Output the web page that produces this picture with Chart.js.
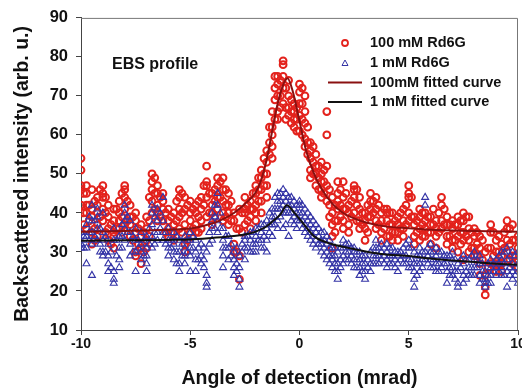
<!DOCTYPE html>
<html>
<head>
<meta charset="utf-8">
<script src="https://cdn.jsdelivr.net/npm/chart.js@4.4.0/dist/chart.umd.min.js"></script>
<style>
html,body{margin:0;padding:0;background:#fff;overflow:hidden;width:522px;height:392px}
#wrap{width:540px;height:392px;position:relative}
</style>
</head>
<body>
<div id="wrap"><canvas id="c"></canvas></div>
<script>
// x positions of the measured columns (mrad)
const xCols = [
  -10,-9.75,-9.5,-9.25, -9,-8.75,-8.5,-8.25, -8,-7.75,-7.5,-7.25, -7,-6.75,-6.5,-6.25,
  -6,-5.75,-5.5,-5.25, -5,-4.75,-4.5,-4.25, -4,-3.75,-3.5,-3.25, -3,-2.75,-2.5,-2.25,
  -2,-1.75,-1.5,-1.25, -1,-0.75,-0.5,-0.25, 0,0.25,0.5,0.75, 1,1.25,1.5,1.75,
  2,2.25,2.5,2.75, 3,3.25,3.5,3.75, 4,4.25,4.5,4.75, 5,5.25,5.5,5.75,
  6,6.25,6.5,6.75, 7,7.25,7.5,7.75, 8,8.25,8.5,8.75, 9,9.25,9.5,9.75, 10
];
// in-between columns
const xMid = [
  -9.875,-9.625,-9.375,-9.125, -8.875,-8.625,-8.375,-8.125, -7.875,-7.625,-7.375,-7.125, -6.875,-6.625,-6.375,-6.125,
  -5.875,-5.625,-5.375,-5.125, -4.875,-4.625,-4.375,-4.125, -3.875,-3.625,-3.375,-3.125, -2.875,-2.625,-2.375,-2.125,
  -1.875,-1.625,-1.375,-1.125, -0.875,-0.625,-0.375,-0.125, 0.125,0.375,0.625,0.875, 1.125,1.375,1.625,1.875,
  2.125,2.375,2.625,2.875, 3.125,3.375,3.625,3.875, 4.125,4.375,4.625,4.875, 5.125,5.375,5.625,5.875,
  6.125,6.375,6.625,6.875, 7.125,7.375,7.625,7.875, 8.125,8.375,8.625,8.875, 9.125,9.375,9.625,9.875
];

// 100 mM Rd6G, values read per column
const redCols = [
  [54,51,47,46,42],[47,45,42,40,36],[46,41,39,35,32],[44,42,40,37,34],
  [47,45,44,41,38],[42,39,36,33],[41,38,35,34,31],[43,40,38,36],
  [47,46,44,41,37],[42,39,37,34],[40,38,35,30,29],[37,34,31,27],
  [39,36,33,31],[50,48,46,43,40],[47,45,42,40,38],[45,43,41,38],
  [41,38,36,34],[40,37,35,33],[46,44,41,39,36],[44,41,37,32,30],
  [43,40,38,35],[42,40,37,35],[44,41,38,36],[52,48,47,44,39],
  [45,42,40,37],[49,47,44,41],[49,46,43,40,38],[45,42,40,37],
  [40,38,32,30],[41,36,29,23],[44,41,40,37],[43,41,39,36],
  [47,45,42,40,38],[51,49,46,43,40],[56,53,50,47,44],[66,62,60,57,54],
  [75,73,70,66,64],[79,78,75,72,68],[74,70,67,65],[68,66,64,62],
  [73,71,68,65,61],[70,66,63,59,57],[58,56,54,51,49],[55,52,50,47],
  [53,50,48,46,44],[66,60,52,47,43],[44,40,37,34,31],[48,45,43,41,38],
  [48,44,41,38,36],[42,40,37,35],[47,46,44,40],[44,41,38,36],
  [40,38,36,33],[45,43,41,39],[44,41,38,36],[40,38,35,33],
  [41,40,38,34],[40,37,35,33],[39,37,35,33],[41,38,36,34],
  [47,45,44,40,38],[39,37,34,32],[41,39,36,33],[40,38,36,34],
  [39,37,35,32],[38,36,34,31],[44,42,38,36],[39,37,34,32],
  [38,36,33,31],[39,37,34,30],[40,38,35,33,28],[39,36,33,30],
  [36,34,31,29],[34,31,27,24],[30,24,21,19],[37,35,31,27],
  [33,30,27,25],[32,29,27,25],[38,36,33,30],[37,33,29,27],
  [34,31,28,26]
];
const redMid = [
  [45,40,37],[42,38],[43,36,33],[46,39],
  [44,40,35],[37,32],[41,36],[45,39,35],
  [43,38],[39,33],[36,32],[35,30],
  [44,38,34],[49,45,41],[44,39],[40,35],
  [39,35],[43,38],[45,40,35],[42,33],
  [41,36],[43,39,35],[47,42],[45,40],
  [46,43,39],[48,44],[46,42,39],[43,38],
  [36,30],[40,35],[42,38],[45,41],
  [49,46,43],[54,50,47],[62,58,55],[75,72,69,64],
  [74,70,67],[72,67,64],[69,66,63],[67,64,61],
  [72,68,64,60],[62,58,55],[57,53,50],[52,49,46],
  [51,48,45],[46,42,39],[42,38,35],[46,42,39],
  [45,41],[43,39],[46,42,38],[40,37],
  [42,39,35],[43,40],[42,37],[41,36],
  [40,37,34],[38,35],[40,36],[42,37],
  [44,39],[38,35],[40,37,34],[39,35],
  [41,37],[40,35],[41,37],[37,34],
  [37,33],[38,35,32],[39,34],[35,31],
  [35,32,29],[33,28],[31,26],[35,29],
  [34,30,27],[35,31],[36,32,28],[33,29]
];

// 1 mM Rd6G, values read per column
const blueCols = [
  [35,33,32,31],[37,34,31,27],[42,38,35,32,24],[41,39,36,33],
  [40,35,33,30,29],[32,29,27,25],[36,33,25,23,22],[34,31,28,26],
  [42,40,38,36,33],[38,35,32,29],[36,33,30,25],[35,32,30,28],
  [34,31,29,27,25],[42,40,37,34,31],[41,38,35,33],[44,38,35,33],
  [36,33,31,29],[35,32,30,28],[33,30,27,25],[34,31,29,27],
  [35,33,31,29,25],[33,30,28,25],[32,29,27],[30,24,22,21],
  [40,38,36,33],[45,42,38,35],[36,33,31,29,26],[34,31,28],
  [30,28,26,24],[29,26,23,21],[34,33,31,28],[35,33,30],
  [36,34,32,30],[37,35,33,31],[38,36,33,30],[41,39,37,34],
  [45,43,41,38,36],[46,44,42,40,36],[44,42,40,34],[43,41,39,37],
  [43,42,40,38],[41,39,37,35],[39,37,35,33],[37,35,33,31],
  [35,33,32,30],[34,32,30,28],[31,29,28,26],[30,27,25,23],
  [33,31,29,27],[32,30,28],[31,30,28,26],[30,28,26,24],
  [29,27,25,23],[30,27,25],[33,31,29,27],[32,30,28],
  [32,30,28,26],[31,29,27],[30,29,27,25],[31,29,27],
  [33,31,28,26],[30,27,25,23,21],[31,29,27,25],[44,42,30,28],
  [32,30,28,26],[31,29,27,25],[30,28,26],[29,27,25,22],
  [30,28,26,24],[27,25,22,21],[29,27,24,22],[28,26,24],
  [30,28,26,24],[29,27,24,22],[25,23,22,21],[28,26,24,22],
  [28,26,24],[30,28,26,24],[31,28,25,21],[30,27,25,23],
  [30,27,25,22]
];
const blueMid = [
  [34,31],[39,35,33],[38,34],[36,32,30],
  [34,30],[30,26],[33,29],[37,34,31],
  [39,35],[34,30],[33,31],[33,29],
  [36,32],[39,35,32],[40,36],[35,32],
  [33,31],[34,30,27],[32,29],[33,30],
  [34,31],[31,28],[31,28,26],[35,32],
  [42,39,36],[40,36],[34,31],[32,29],
  [31,27,25],[32,30],[34,31],[35,32,30],
  [36,33],[37,34,31],[40,37,35],[44,41,39,37],
  [45,43,41,39],[45,43,40,37],[44,42,40,38],[42,40,38,36],
  [42,40,38,36],[40,38,36,34],[38,36,34,32],[36,34,32],
  [35,33,31,29],[33,31,29,27],[31,29,27,25],[31,28,26],
  [32,30,28],[31,29,27],[30,28,26],[29,27,25],
  [28,26],[31,29,27],[31,29,27],[31,29,27],
  [31,29,27],[30,28,26],[30,28],[32,29,27],
  [31,28,26],[29,27,24],[30,28,26],[31,29,27],
  [30,28,26],[30,27,25],[29,27],[29,26,24],
  [28,25,23],[28,26],[28,25,23],[29,26,24],
  [28,26],[27,25,23],[27,24,22],[27,25],
  [29,27,25],[30,27,24],[29,26,24],[29,26,24]
];

// fitted curves
const fitRedX = [-10,-8,-6,-5,-4,-3.5,-3,-2.5,-2,-1.75,-1.5,-1.25,-1,-0.75,-0.55,-0.3,0,0.3,0.67,1,1.5,2,2.5,3,4,5,6,8,10];
const fitRedY = [35.2,35.4,35.7,36.0,37.3,38.4,40.0,42.3,45.3,48.5,53.7,61,68,72.8,74.5,71,63.5,56,50,46.3,42.4,40,38.6,37.6,36.5,36.1,35.7,35.4,35.2];
const fitBlackX = [-10,-8,-6,-5,-4,-3,-2.4,-2,-1.5,-1.2,-0.86,-0.58,-0.24,0.1,0.67,1.44,2.2,2.97,3.73,5.1,6,7,8,9,10];
const fitBlackY = [32.9,33.0,33.1,33.2,33.6,34.1,34.6,35.2,36.6,38.0,39.7,42.0,40.1,37.8,34.0,32.1,31.1,30.2,29.5,28.9,28.3,27.8,27.4,27.0,26.7];

const yTicks = [10,20,30,40,50,60,70,80,90];
const xTicks = [-10,-5,0,5,10];
const legendLabels = ['100 mM Rd6G','1 mM Rd6G','100mM fitted curve','1 mM fitted curve'];

const FONT = "'Liberation Sans', Arial, sans-serif";
const RED = '#e3221c', BLUE = '#3434a6', DARKRED = '#8a1010', BLACK = '#111';

function colsToPoints(xs, cols){
  const out = [];
  xs.forEach((x,i)=> cols[i].forEach(y=> out.push({x, y})));
  return out;
}
function pairs(xs, ys){ return xs.map((x,i)=>({x, y: ys[i]})); }

const decor = {
  id: 'decor',
  afterDraw(chart){
    const {ctx, chartArea: a} = chart;
    ctx.save();
    // top and right frame
    ctx.strokeStyle = '#777'; ctx.lineWidth = 1;
    ctx.beginPath();
    ctx.moveTo(a.left, a.top + 0.5); ctx.lineTo(a.right - 0.5, a.top + 0.5); ctx.lineTo(a.right - 0.5, a.bottom);
    ctx.stroke();

    // inline text
    ctx.fillStyle = BLACK;
    ctx.font = 'bold 16px ' + FONT;
    ctx.textBaseline = 'alphabetic';
    ctx.fillText('EBS profile', 112, 69);

    // legend
    const rows = [43, 63, 82.5, 102];
    ctx.font = 'bold 14.5px ' + FONT;
    ctx.textBaseline = 'middle';
    rows.forEach((y,i)=> ctx.fillText(legendLabels[i], 370, y));
    ctx.strokeStyle = RED; ctx.lineWidth = 1.8;
    ctx.beginPath(); ctx.arc(345, rows[0], 3, 0, Math.PI*2); ctx.stroke();
    ctx.strokeStyle = BLUE; ctx.lineWidth = 1;
    ctx.beginPath(); ctx.moveTo(345, rows[1]-3); ctx.lineTo(348, rows[1]+2.5); ctx.lineTo(342, rows[1]+2.5); ctx.closePath(); ctx.stroke();
    ctx.lineWidth = 2;
    ctx.strokeStyle = DARKRED;
    ctx.beginPath(); ctx.moveTo(328, rows[2]); ctx.lineTo(362, rows[2]); ctx.stroke();
    ctx.strokeStyle = BLACK;
    ctx.beginPath(); ctx.moveTo(328, rows[3]); ctx.lineTo(362, rows[3]); ctx.stroke();
    ctx.restore();
  }
};

const redPts = colsToPoints(xCols, redCols).concat(colsToPoints(xMid, redMid));
const bluePts = colsToPoints(xCols, blueCols).concat(colsToPoints(xMid, blueMid));

new Chart(document.getElementById('c'), {
  type: 'scatter',
  data: {
    datasets: [
      { label: legendLabels[2], data: pairs(fitRedX, fitRedY), showLine: true, borderColor: DARKRED, borderWidth: 2,
        pointRadius: 0, cubicInterpolationMode: 'monotone', order: 0 },
      { label: legendLabels[3], data: pairs(fitBlackX, fitBlackY), showLine: true, borderColor: BLACK, borderWidth: 2,
        pointRadius: 0, cubicInterpolationMode: 'monotone', order: 0 },
      { label: legendLabels[1], data: bluePts, pointStyle: 'triangle', pointRadius: 4,
        borderColor: BLUE, backgroundColor: 'rgba(0,0,0,0)', borderWidth: 1.1, order: 1 },
      { label: legendLabels[0], data: redPts, pointStyle: 'circle', pointRadius: 3.4,
        borderColor: RED, backgroundColor: 'rgba(0,0,0,0)', borderWidth: 2, order: 2 }
    ]
  },
  options: {
    responsive: true,
    maintainAspectRatio: false,
    animation: false,
    layout: { padding: { top: 16, right: 22, left: 0, bottom: 0 } },
    plugins: { legend: { display: false }, tooltip: { enabled: false } },
    scales: {
      x: {
        type: 'linear', min: -10, max: 10,
        afterBuildTicks: s => { s.ticks = xTicks.map(v => ({value: v})); },
        ticks: { color: BLACK, padding: 1, maxRotation: 0, font: { family: FONT, size: 14, weight: 'bold' } },
        grid: { drawOnChartArea: false, drawTicks: true, tickLength: 5, color: '#444' },
        border: { color: '#444', width: 1 },
        title: { display: true, text: 'Angle of detection (mrad)', color: BLACK,
                 font: { family: FONT, size: 19.5, weight: 'bold' }, padding: { top: 0, bottom: 2 } },
        afterFit: s => { s.height = 62; }
      },
      y: {
        min: 10, max: 90,
        afterBuildTicks: s => { s.ticks = yTicks.map(v => ({value: v})); },
        ticks: { color: BLACK, padding: 8, font: { family: FONT, size: 16.5, weight: 'bold' } },
        grid: { drawOnChartArea: false, drawTicks: true, tickLength: 5, color: '#444' },
        border: { color: '#444', width: 1 },
        title: { display: true, text: 'Backscattered intensity (arb. u.)', color: BLACK,
                 font: { family: FONT, size: 19.5, weight: 'bold' }, padding: { top: 11, bottom: 0 } },
        afterFit: s => { s.width = 81; }
      }
    }
  },
  plugins: [decor]
});
</script>
</body>
</html>
